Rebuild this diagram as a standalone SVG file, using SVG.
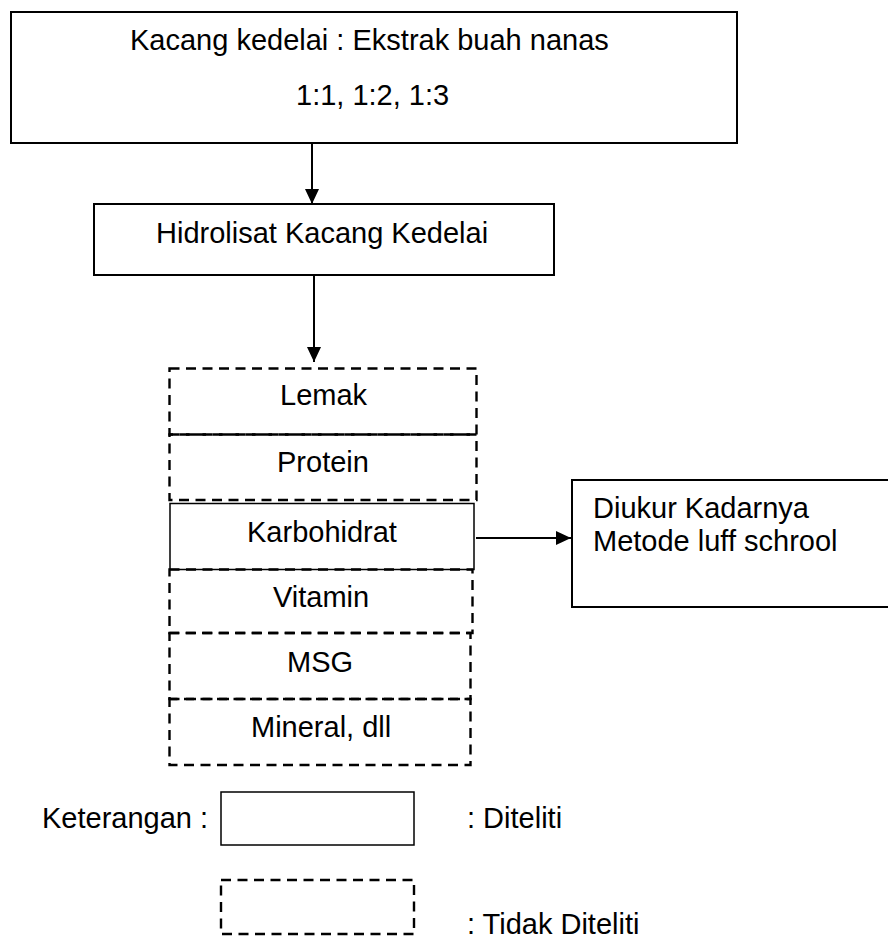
<svg xmlns="http://www.w3.org/2000/svg" width="888" height="941" viewBox="0 0 888 941">
<style>
  text { font-family: "Liberation Sans", Arial, sans-serif; font-size: 29px; fill: #000; }
  .solid { fill: #fff; stroke: #000; stroke-width: 2; }
  .dash { fill: none; stroke: #000; stroke-width: 2.4; stroke-dasharray: 10 6.5; }
  .conn { stroke: #000; stroke-width: 2; fill: none; }
</style>
<defs>
  <marker id="arr" viewBox="0 0 15 14" refX="15" refY="7" markerWidth="15" markerHeight="14" markerUnits="userSpaceOnUse" orient="auto">
    <path d="M0,0 L15,7 L0,14 Z" fill="#000"/>
  </marker>
</defs>
<rect width="888" height="941" fill="#fff"/>

<g id="node-input">
  <rect class="solid" x="11" y="12" width="726" height="131"/>
  <text x="130" y="50">Kacang kedelai : Ekstrak buah nanas</text>
  <text x="296" y="105">1:1, 1:2, 1:3</text>
</g>

<g id="node-hidrolisat">
  <rect class="solid" x="94" y="204" width="460" height="71"/>
  <text x="156" y="243">Hidrolisat Kacang Kedelai</text>
</g>

<g id="node-lemak">
  <rect class="dash" x="169.5" y="368.5" width="307" height="66"/>
  <text x="280" y="405">Lemak</text>
</g>
<g id="node-protein">
  <rect class="dash" x="169.5" y="434.5" width="307" height="65.5"/>
  <text x="277" y="472">Protein</text>
</g>
<g id="node-karbohidrat">
  <rect class="solid" x="170" y="503.5" width="304" height="66" style="stroke-width:1.5"/>
  <text x="247" y="542">Karbohidrat</text>
</g>
<g id="node-vitamin">
  <rect class="dash" x="169.5" y="569.5" width="303" height="63.5"/>
  <text x="273" y="607">Vitamin</text>
</g>
<g id="node-msg">
  <rect class="dash" x="169.5" y="633" width="301" height="66"/>
  <text x="287" y="672">MSG</text>
</g>
<g id="node-mineral">
  <rect class="dash" x="169.5" y="699" width="301" height="66"/>
  <text x="251" y="737">Mineral, dll</text>
</g>

<g id="node-diukur">
  <rect class="solid" x="572" y="480" width="330" height="127"/>
  <text x="593" y="518">Diukur Kadarnya</text>
  <text x="593" y="551">Metode luff schrool</text>
</g>

<g id="legend">
  <text x="42" y="828">Keterangan :</text>
  <rect class="solid" x="221" y="792" width="193" height="53" style="stroke-width:1.5"/>
  <text x="467" y="828">: Diteliti</text>
  <rect class="dash" x="221" y="880" width="193" height="54"/>
  <text x="467" y="934">: Tidak Diteliti</text>
</g>

<g id="connectors">
  <line class="conn" x1="312" y1="143" x2="312" y2="204" marker-end="url(#arr)"/>
  <line class="conn" x1="314" y1="275" x2="314" y2="362" marker-end="url(#arr)"/>
  <line class="conn" x1="476" y1="538" x2="571" y2="538" marker-end="url(#arr)"/>
</g>
</svg>
